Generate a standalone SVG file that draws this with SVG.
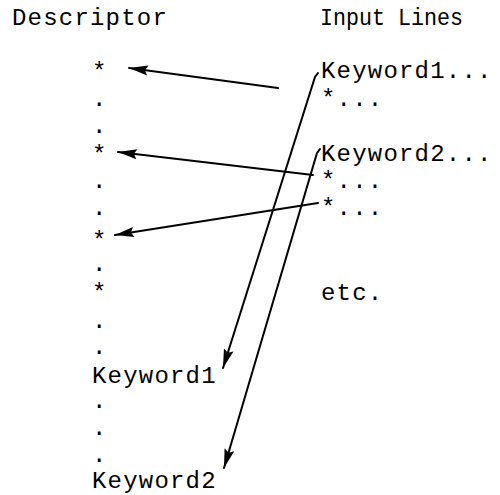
<svg xmlns="http://www.w3.org/2000/svg" width="500" height="495" viewBox="0 0 500 495">
  <style>
    text { font-family: "Liberation Mono", "DejaVu Sans Mono", monospace; font-size: 24px; letter-spacing: 1.2px; fill: #000; }
    .wire { stroke: #000; stroke-width: 2; fill: none; stroke-linecap: round; }
  </style>
  <defs>
    <marker id="head" markerUnits="userSpaceOnUse" markerWidth="20" markerHeight="10" refX="19" refY="5" orient="auto" overflow="visible">
      <path d="M0,0 L19,5 L0,10 L3,5 z" fill="#000"/>
    </marker>
  </defs>
  <rect width="500" height="495" fill="#fff"/>

  <!-- column headings -->
  <g id="heading-descriptor"><text x="12" y="25">Descriptor</text></g>
  <g id="heading-input"><text x="320" y="25" style="letter-spacing:0" textLength="143" lengthAdjust="spacingAndGlyphs">Input Lines</text></g>

  <!-- descriptor column -->
  <g id="desc-star-1"><text x="92" y="79">*</text></g>
  <g id="desc-dot-1"><text x="92" y="106">.</text></g>
  <g id="desc-dot-2"><text x="92" y="133">.</text></g>
  <g id="desc-star-2"><text x="92" y="162">*</text></g>
  <g id="desc-dot-3"><text x="92" y="188">.</text></g>
  <g id="desc-dot-4"><text x="92" y="215">.</text></g>
  <g id="desc-star-3"><text x="92" y="248">*</text></g>
  <g id="desc-dot-5"><text x="92" y="271">.</text></g>
  <g id="desc-star-4"><text x="92" y="300">*</text></g>
  <g id="desc-dot-6"><text x="92" y="328">.</text></g>
  <g id="desc-dot-7"><text x="92" y="354">.</text></g>
  <g id="desc-keyword1"><text x="92" y="383">Keyword1</text></g>
  <g id="desc-dot-8"><text x="92" y="408">.</text></g>
  <g id="desc-dot-9"><text x="92" y="435">.</text></g>
  <g id="desc-dot-10"><text x="92" y="462">.</text></g>
  <g id="desc-keyword2"><text x="92" y="488">Keyword2</text></g>

  <!-- input lines column -->
  <g id="in-keyword1"><text x="321" y="78">Keyword1...</text></g>
  <g id="in-star-1"><text x="321" y="106">*...</text></g>
  <g id="in-keyword2"><text x="321" y="161">Keyword2...</text></g>
  <g id="in-star-2"><text x="321" y="188">*...</text></g>
  <g id="in-star-3"><text x="321" y="215">*...</text></g>
  <g id="in-etc"><text x="321" y="300">etc.</text></g>

  <!-- connectors -->
  <g id="connectors">
    <line class="wire" x1="278" y1="88" x2="129" y2="68" marker-end="url(#head)"/>
    <line class="wire" x1="313" y1="175" x2="118" y2="152" marker-end="url(#head)"/>
    <line class="wire" x1="318" y1="203" x2="115" y2="235" marker-end="url(#head)"/>
    <polyline class="wire" points="318,73 315,77 223,368" marker-end="url(#head)"/>
    <polyline class="wire" points="320,149 317,153 224,468" marker-end="url(#head)"/>
  </g>
</svg>
